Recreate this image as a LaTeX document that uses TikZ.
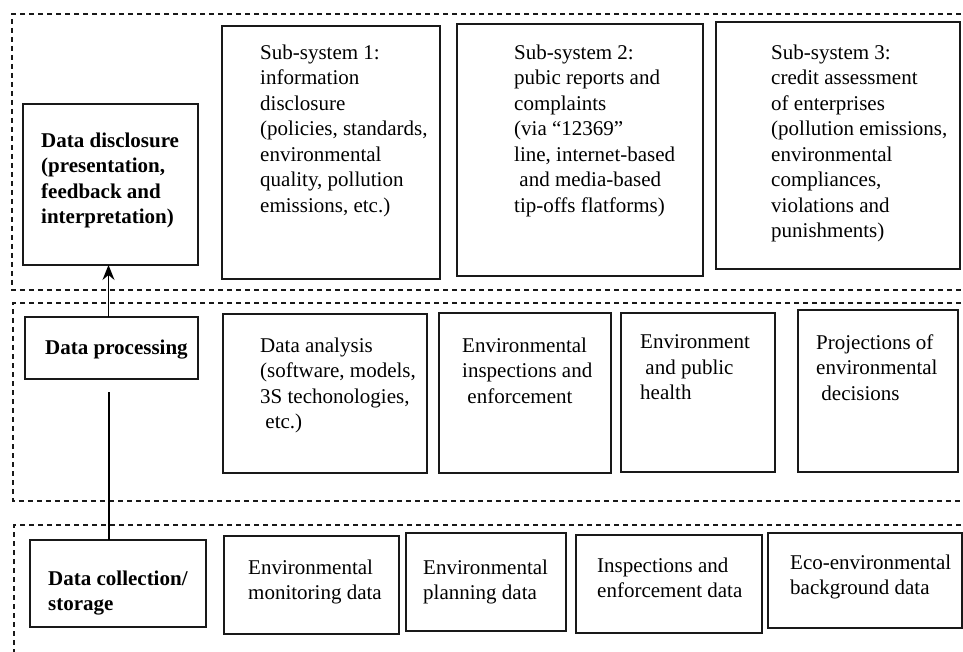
\documentclass[tikz,border=0pt]{standalone}
\usepackage{fontspec}
\setmainfont{Liberation Serif}
\usetikzlibrary{arrows.meta}
\begin{document}
\begin{tikzpicture}[x=1pt,y=-1pt,
  box/.style={draw=black!90, line width=1.4pt, inner sep=0pt, outer sep=0pt, anchor=north west},
  txt/.style={anchor=north west, inner sep=0pt, align=left, font=\fontsize{21}{25.5}\selectfont},
  btxt/.style={txt, font=\fontsize{21}{25.5}\selectfont\bfseries},
  frame/.style={draw=black!90, line width=1.1pt, dash pattern=on 5pt off 4pt},
  conn/.style={draw=black, line width=1.4pt}]
\useasboundingbox (0,0) rectangle (963,652);
\clip (0,0) rectangle (963,652);
% frames
\draw[frame] (970,14) -- (12,14) -- (12,290) -- (970,290);
\draw[frame] (970,303) -- (13,303) -- (13,501) -- (970,501);
\draw[frame] (970,525) -- (14,525) -- (14,660);
% top row
\node[box, minimum width=175pt, minimum height=161pt] (dd) at (23,104) {};
\node[box, minimum width=218pt, minimum height=253pt] (s1) at (222,26) {};
\node[box, minimum width=246pt, minimum height=252pt] (s2) at (457,24) {};
\node[box, minimum width=244pt, minimum height=247pt] (s3) at (716,22) {};
\node[btxt] (tdd) at (41,132.5) {Data disclosure\\(presentation,\\feedback and\\interpretation)};
\node[txt] (ts1) at (260,44.5) {Sub-system 1:\\information\\disclosure\\(policies, standards,\\environmental\\quality, pollution\\emissions, etc.)};
\node[txt] (ts2) at (514,44.5) {Sub-system 2:\\pubic reports and\\complaints\\(via “12369”\\line, internet-based\\\hspace*{0.25em}and media-based\\tip-offs flatforms)};
\node[txt] (ts3) at (771,44.5) {Sub-system 3:\\credit assessment\\of enterprises\\(pollution emissions,\\environmental\\compliances,\\violations and\\punishments)};
% middle row
\node[box, minimum width=173pt, minimum height=62pt] (dp) at (25,317) {};
\node[box, minimum width=204pt, minimum height=159pt] (da) at (223,314) {};
\node[box, minimum width=172pt, minimum height=160pt] (ei) at (439,313) {};
\node[box, minimum width=154pt, minimum height=159pt] (eh) at (621,313) {};
\node[box, minimum width=160pt, minimum height=162pt] (pj) at (798,310) {};
\node[btxt] (tdp) at (45,339.5) {Data processing};
\node[txt] (tda) at (260,337.5) {Data analysis\\(software, models,\\3S techonologies,\\\hspace*{0.25em}etc.)};
\node[txt] (tei) at (462,337.5) {Environmental\\inspections and\\\hspace*{0.25em}enforcement};
\node[txt] (teh) at (640,334.5) {Environment\\\hspace*{0.25em}and public\\health};
\node[txt] (tpj) at (816,334.5) {Projections of\\environmental\\\hspace*{0.25em}decisions};
% bottom row
\node[box, minimum width=176pt, minimum height=87pt] (dc) at (30,540) {};
\node[box, minimum width=175pt, minimum height=98pt] (em) at (224,536) {};
\node[box, minimum width=160pt, minimum height=98pt] (ep) at (406,533) {};
\node[box, minimum width=186pt, minimum height=98pt] (ie) at (576,535) {};
\node[box, minimum width=194pt, minimum height=95pt] (eco) at (768,533) {};
\node[btxt] (tdc) at (48,570.5) {Data collection/\\storage};
\node[txt] (tem) at (248,559.5) {Environmental\\monitoring data};
\node[txt] (tep) at (423,559.5) {Environmental\\planning data};
\node[txt] (tie) at (597,557.5) {Inspections and\\enforcement data};
\node[txt] (teco) at (790,554.5) {Eco-environmental\\background data};
% connectors
\coordinate (ax) at (108.5,0);
\coordinate (lnstart) at (109,392);
\draw[conn, -{Stealth[length=15pt,width=12pt,inset=5pt]}] (dp.north -| ax) -- (dd.south -| ax);
\draw[conn] (lnstart) -- (dc.north -| lnstart);
\end{tikzpicture}
\end{document}
